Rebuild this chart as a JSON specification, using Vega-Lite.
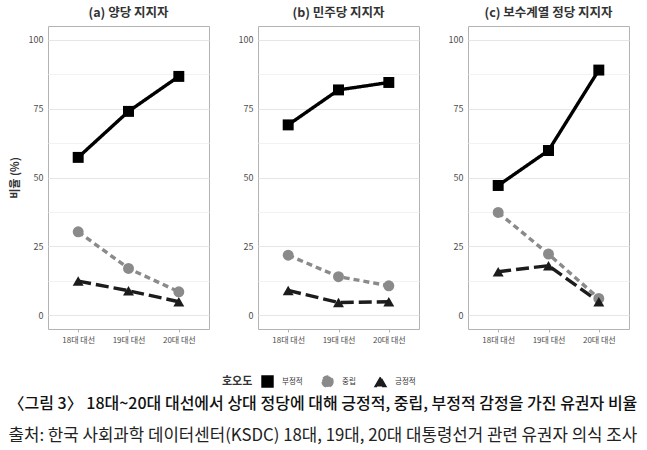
{
  "$schema": "https://vega.github.io/schema/vega-lite/v6.json",
  "padding": {"left": 8, "top": 6, "right": 8, "bottom": 4},
  "background": "white",
  "data": {"values": [
    {"panel": "a", "election": "18대 대선", "attitude": "부정적", "value": 57.3},
    {"panel": "a", "election": "19대 대선", "attitude": "부정적", "value": 74.0},
    {"panel": "a", "election": "20대 대선", "attitude": "부정적", "value": 86.7},
    {"panel": "a", "election": "18대 대선", "attitude": "중립", "value": 30.3},
    {"panel": "a", "election": "19대 대선", "attitude": "중립", "value": 17.0},
    {"panel": "a", "election": "20대 대선", "attitude": "중립", "value": 8.5},
    {"panel": "a", "election": "18대 대선", "attitude": "긍정적", "value": 12.4},
    {"panel": "a", "election": "19대 대선", "attitude": "긍정적", "value": 8.9},
    {"panel": "a", "election": "20대 대선", "attitude": "긍정적", "value": 4.9},
    {"panel": "b", "election": "18대 대선", "attitude": "부정적", "value": 69.1},
    {"panel": "b", "election": "19대 대선", "attitude": "부정적", "value": 81.8},
    {"panel": "b", "election": "20대 대선", "attitude": "부정적", "value": 84.5},
    {"panel": "b", "election": "18대 대선", "attitude": "중립", "value": 21.8},
    {"panel": "b", "election": "19대 대선", "attitude": "중립", "value": 14.0},
    {"panel": "b", "election": "20대 대선", "attitude": "중립", "value": 10.7},
    {"panel": "b", "election": "18대 대선", "attitude": "긍정적", "value": 9.0},
    {"panel": "b", "election": "19대 대선", "attitude": "긍정적", "value": 4.6},
    {"panel": "b", "election": "20대 대선", "attitude": "긍정적", "value": 4.9},
    {"panel": "c", "election": "18대 대선", "attitude": "부정적", "value": 47.1},
    {"panel": "c", "election": "19대 대선", "attitude": "부정적", "value": 59.8},
    {"panel": "c", "election": "20대 대선", "attitude": "부정적", "value": 89.0},
    {"panel": "c", "election": "18대 대선", "attitude": "중립", "value": 37.3},
    {"panel": "c", "election": "19대 대선", "attitude": "중립", "value": 22.2},
    {"panel": "c", "election": "20대 대선", "attitude": "중립", "value": 6.1},
    {"panel": "c", "election": "18대 대선", "attitude": "긍정적", "value": 15.8},
    {"panel": "c", "election": "19대 대선", "attitude": "긍정적", "value": 18.0},
    {"panel": "c", "election": "20대 대선", "attitude": "긍정적", "value": 4.9}
  ]},
  "title": {
    "text": "〈그림 3〉 18대~20대 대선에서 상대 정당에 대해 긍정적, 중립, 부정적 감정을 가진 유권자 비율",
    "subtitle": "출처: 한국 사회과학 데이터센터(KSDC) 18대, 19대, 20대 대통령선거 관련 유권자 의식 조사",
    "orient": "bottom",
    "anchor": "start",
    "fontSize": 16,
    "fontWeight": 500,
    "color": "#111111",
    "subtitleFontSize": 16.8,
    "subtitleFontWeight": "normal",
    "subtitleColor": "#222222",
    "subtitlePadding": 16,
    "offset": 6
  },
  "spacing": 27,
  "hconcat": [
    {
      "width": 161, "height": 303,
      "title": {"text": "(a) 양당 지지자", "fontSize": 12.5, "fontWeight": "bold", "color": "#333333", "anchor": "middle", "offset": 7},
      "transform": [{"filter": "datum.panel == 'a'"}],
      "encoding": {
        "x": {"field": "election", "type": "ordinal", "scale": {"type": "point", "padding": 0.6}, "axis": {"title": null}},
        "y": {"field": "value", "type": "quantitative", "scale": {"domain": [-5, 105], "nice": false, "zero": false}, "axis": {"title": "비율 (%)", "values": [0, 12.5, 25, 37.5, 50, 62.5, 75, 87.5, 100]}},
        "color": {"field": "attitude", "type": "nominal", "title": "호오도", "scale": {"domain": ["부정적", "중립", "긍정적"], "range": ["#000000", "#8a8a8a", "#1c1c1c"]}}
      },
      "layer": [
        {"mark": {"type": "line", "strokeWidth": 3.4}, "encoding": {"strokeDash": {"field": "attitude", "type": "nominal", "title": "호오도", "scale": {"domain": ["부정적", "중립", "긍정적"], "range": [[1, 0], [6, 4], [13, 5]]}}}},
        {"mark": {"type": "point", "filled": true, "opacity": 1, "size": 120}, "encoding": {"shape": {"field": "attitude", "type": "nominal", "title": "호오도", "scale": {"domain": ["부정적", "중립", "긍정적"], "range": ["square", "circle", "triangle-up"]}}}}
      ]
    },
    {
      "width": 161, "height": 303,
      "title": {"text": "(b) 민주당 지지자", "fontSize": 12.5, "fontWeight": "bold", "color": "#333333", "anchor": "middle", "offset": 7},
      "transform": [{"filter": "datum.panel == 'b'"}],
      "encoding": {
        "x": {"field": "election", "type": "ordinal", "scale": {"type": "point", "padding": 0.6}, "axis": {"title": null}},
        "y": {"field": "value", "type": "quantitative", "scale": {"domain": [-5, 105], "nice": false, "zero": false}, "axis": {"title": null, "values": [0, 12.5, 25, 37.5, 50, 62.5, 75, 87.5, 100]}},
        "color": {"field": "attitude", "type": "nominal", "title": "호오도", "scale": {"domain": ["부정적", "중립", "긍정적"], "range": ["#000000", "#8a8a8a", "#1c1c1c"]}}
      },
      "layer": [
        {"mark": {"type": "line", "strokeWidth": 3.4}, "encoding": {"strokeDash": {"field": "attitude", "type": "nominal", "title": "호오도", "scale": {"domain": ["부정적", "중립", "긍정적"], "range": [[1, 0], [6, 4], [13, 5]]}}}},
        {"mark": {"type": "point", "filled": true, "opacity": 1, "size": 120}, "encoding": {"shape": {"field": "attitude", "type": "nominal", "title": "호오도", "scale": {"domain": ["부정적", "중립", "긍정적"], "range": ["square", "circle", "triangle-up"]}}}}
      ]
    },
    {
      "width": 161, "height": 303,
      "title": {"text": "(c) 보수계열 정당 지지자", "fontSize": 12.5, "fontWeight": "bold", "color": "#333333", "anchor": "middle", "offset": 7},
      "transform": [{"filter": "datum.panel == 'c'"}],
      "encoding": {
        "x": {"field": "election", "type": "ordinal", "scale": {"type": "point", "padding": 0.6}, "axis": {"title": null}},
        "y": {"field": "value", "type": "quantitative", "scale": {"domain": [-5, 105], "nice": false, "zero": false}, "axis": {"title": null, "values": [0, 12.5, 25, 37.5, 50, 62.5, 75, 87.5, 100]}},
        "color": {"field": "attitude", "type": "nominal", "title": "호오도", "scale": {"domain": ["부정적", "중립", "긍정적"], "range": ["#000000", "#8a8a8a", "#1c1c1c"]}}
      },
      "layer": [
        {"mark": {"type": "line", "strokeWidth": 3.4}, "encoding": {"strokeDash": {"field": "attitude", "type": "nominal", "title": "호오도", "scale": {"domain": ["부정적", "중립", "긍정적"], "range": [[1, 0], [6, 4], [13, 5]]}}}},
        {"mark": {"type": "point", "filled": true, "opacity": 1, "size": 120}, "encoding": {"shape": {"field": "attitude", "type": "nominal", "title": "호오도", "scale": {"domain": ["부정적", "중립", "긍정적"], "range": ["square", "circle", "triangle-up"]}}}}
      ]
    }
  ],
  "config": {
    "font": "Noto Sans CJK KR",
    "view": {"stroke": "#b3b3b3", "strokeWidth": 1},
    "axis": {
      "domain": false,
      "labelColor": "#4d4d4d",
      "labelFontSize": 9,
      "tickColor": "#b3b3b3",
      "tickSize": 3,
      "labelPadding": 2,
      "titleColor": "#333333",
      "titleFontSize": 11,
      "titleFontWeight": "bold",
      "titlePadding": 8
    },
    "axisX": {"grid": false, "labelAngle": 0, "labelFontSize": 8, "labelPadding": 4},
    "axisY": {
      "labelOverlap": false,
      "labelExpr": "datum.value % 25 == 0 ? datum.label : ''",
      "gridColor": {"condition": {"test": "datum.value % 25 == 0", "value": "#e6e6e6"}, "value": "#f2f2f2"},
      "tickOpacity": {"condition": {"test": "datum.value % 25 == 0", "value": 1}, "value": 0}
    },
    "legend": {
      "orient": "bottom",
      "direction": "horizontal",
      "titleOrient": "left",
      "titleFontSize": 11,
      "titleFontWeight": "bold",
      "titleColor": "#333333",
      "titlePadding": 8,
      "labelFontSize": 7.5,
      "labelColor": "#333333",
      "labelOffset": 8,
      "symbolSize": 120,
      "columnPadding": 16,
      "offset": 30,
      "layout": {"bottom": {"anchor": "middle"}}
    }
  }
}
